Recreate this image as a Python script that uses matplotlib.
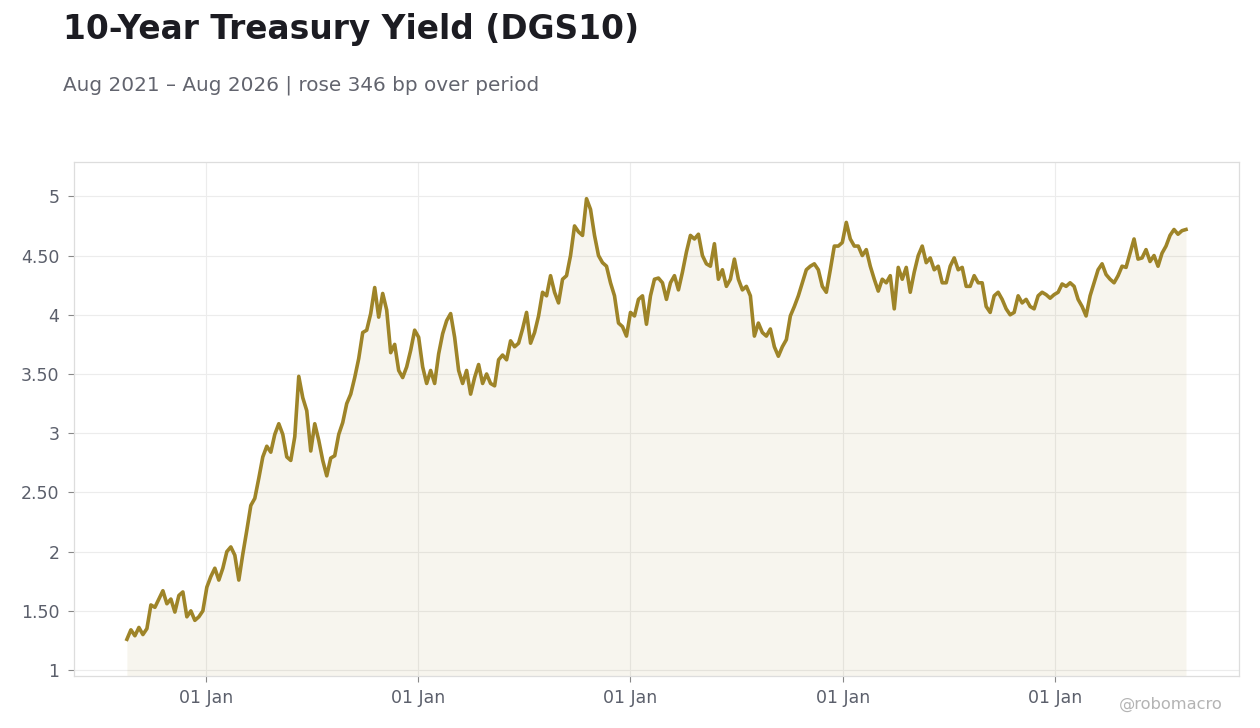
import numpy as np
import pandas as pd
import matplotlib
matplotlib.use('Agg')
from matplotlib import pyplot as plt
import matplotlib.dates as mdates
from matplotlib.ticker import FuncFormatter

# DGS10 values, roughly weekly from Aug 2021 to Aug 2026
yld_2021_22 = [1.26, 1.34, 1.29, 1.36, 1.30, 1.35, 1.55, 1.53, 1.60, 1.67, 1.56, 1.60, 1.49, 1.63, 1.66,
               1.45, 1.50, 1.42, 1.45, 1.50, 1.70, 1.79, 1.86, 1.76, 1.86, 2.00, 2.04, 1.97, 1.76, 1.98,
               2.18, 2.39, 2.45, 2.62, 2.80, 2.89, 2.84, 2.99, 3.08, 2.99, 2.80, 2.77, 2.97, 3.48]
yld_2022_23 = [3.30, 3.19, 2.85, 3.08, 2.94, 2.77, 2.64, 2.79, 2.81, 2.99, 3.09, 3.25, 3.33, 3.47, 3.63,
               3.85, 3.87, 4.01, 4.23, 3.98, 4.18, 4.04, 3.68, 3.75, 3.53, 3.47, 3.56, 3.70, 3.87, 3.81,
               3.56, 3.42, 3.53, 3.42, 3.67, 3.84, 3.95, 4.01, 3.81, 3.53, 3.42, 3.53, 3.33, 3.47, 3.58,
               3.42, 3.50, 3.42, 3.40, 3.62]
yld_2023_24 = [3.66, 3.62, 3.78, 3.73, 3.76, 3.88, 4.02, 3.76, 3.85, 3.99, 4.19, 4.16, 4.33, 4.19, 4.10,
               4.30, 4.33, 4.50, 4.75, 4.70, 4.67, 4.98, 4.89, 4.67, 4.50, 4.44, 4.41, 4.27, 4.16, 3.93,
               3.90, 3.82, 4.02, 3.99, 4.13, 4.16, 3.92, 4.16, 4.30, 4.31, 4.27, 4.13, 4.27, 4.33, 4.21,
               4.36, 4.53, 4.67]
yld_2024_25 = [4.64, 4.68, 4.50, 4.43, 4.41, 4.60, 4.30, 4.38, 4.24, 4.30, 4.47, 4.30, 4.21, 4.24, 4.16,
               3.82, 3.93, 3.85, 3.82, 3.88, 3.73, 3.65, 3.73, 3.79, 3.99, 4.07, 4.16, 4.27, 4.38, 4.41,
               4.43, 4.38, 4.24, 4.19, 4.38, 4.58, 4.58, 4.61, 4.78, 4.64, 4.58, 4.58, 4.50, 4.55, 4.41,
               4.30, 4.20]
yld_2025_26 = [4.30, 4.27, 4.33, 4.05, 4.40, 4.30, 4.40, 4.19, 4.36, 4.50, 4.58, 4.44, 4.48, 4.38, 4.41,
               4.27, 4.27, 4.41, 4.48, 4.38, 4.40, 4.24, 4.24, 4.33, 4.27, 4.27, 4.07, 4.02, 4.16, 4.19,
               4.13, 4.05, 4.00, 4.02, 4.16, 4.10, 4.13, 4.07, 4.05, 4.16, 4.19, 4.17, 4.14, 4.17, 4.19,
               4.26, 4.24, 4.27]
yld_2026 = [4.24, 4.13, 4.07, 3.99, 4.16, 4.27, 4.38, 4.43, 4.34, 4.30, 4.27, 4.33, 4.41, 4.40, 4.52,
            4.64, 4.47, 4.48, 4.55, 4.45, 4.50, 4.41, 4.52, 4.58, 4.67, 4.72, 4.68, 4.71, 4.72]

yields = np.array(yld_2021_22 + yld_2022_23 + yld_2023_24 + yld_2024_25 + yld_2025_26 + yld_2026)
dates = pd.date_range('2021-08-18', '2026-08-14', periods=len(yields))

title = '10-Year Treasury Yield (DGS10)'
subtitle = 'Aug 2021 \u2013 Aug 2026 | rose 346 bp over period'
yticks = [1, 1.5, 2, 2.5, 3, 3.5, 4, 4.5, 5]

line_c = '#9e8428'
grid_c = '#ececec'
text_c = '#5b5f6b'

fig = plt.figure(figsize=(12.6, 7.28), dpi=100)
ax = fig.add_axes([0.0587, 0.0714, 0.9246, 0.7061])

ax.fill_between(dates, yields, 0, color=line_c, alpha=0.08, lw=0)
ax.plot(dates, yields, color=line_c, lw=2.6, solid_joinstyle='round')

ax.set_ylim(0.95, 5.29)
ax.set_yticks(yticks)
ax.yaxis.set_major_formatter(FuncFormatter(lambda v, p: '%d' % v if v == int(v) else '%.2f' % v))
ax.xaxis.set_major_locator(mdates.YearLocator())
ax.xaxis.set_major_formatter(mdates.DateFormatter('%d %b'))

ax.grid(True, color=grid_c, lw=0.8)
ax.set_axisbelow(True)
for s in ax.spines.values():
    s.set_color('#dddddd')
    s.set_linewidth(0.9)
ax.tick_params(axis='both', colors='#888888', labelcolor=text_c, labelsize=12.5, length=4, width=0.8)
ax.tick_params(axis='x', pad=5)
ax.tick_params(axis='y', pad=6.5)

fig.text(0.05, 0.959, title, fontsize=23.7, fontweight='bold', color='#1c1c22', va='center')
fig.text(0.05, 0.883, subtitle, fontsize=14.4, color='#62646e', va='center')
fig.text(0.970, 0.032, '@robomacro', fontsize=11.7, color='#b4b4b4', ha='right', va='center')

plt.savefig('out.png', dpi=100)
plt.close()
